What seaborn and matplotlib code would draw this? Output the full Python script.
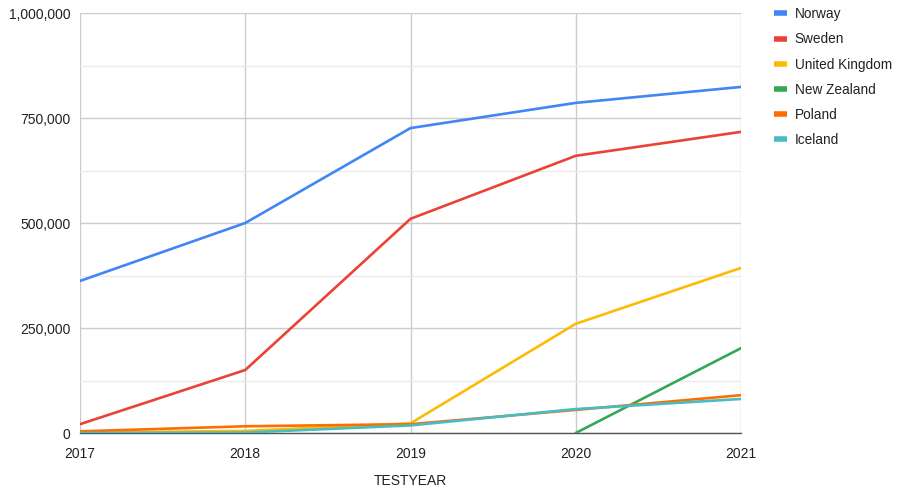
import matplotlib
matplotlib.use("Agg")
import matplotlib.pyplot as plt
import seaborn as sns
import pandas as pd
import numpy as np
from matplotlib.ticker import FuncFormatter, MultipleLocator
from matplotlib.lines import Line2D

years = [2017, 2018, 2019, 2020, 2021]
norway = [362000, 500000, 726000, 786000, 824000]
sweden = [21000, 150000, 510000, 660000, 717000]
uk = [1000, 5000, 23000, 260000, 393000]
new_zealand = [np.nan, np.nan, np.nan, 0, 202000]
poland = [4000, 16000, 21000, 55000, 90000]
iceland = [0, 1000, 18000, 57000, 81000]

series_names = ["Norway", "Sweden", "United Kingdom", "New Zealand", "Poland", "Iceland"]
series_vals = [norway, sweden, uk, new_zealand, poland, iceland]
colors = ["#4285F4", "#EA4335", "#FBBC04", "#34A853", "#FF6D01", "#46BDC6"]

rows = []
for name, vals in zip(series_names, series_vals):
    for y, v in zip(years, vals):
        if not np.isnan(v):
            rows.append({"TESTYEAR": y, "value": v, "country": name})
df = pd.DataFrame(rows)

sns.set_style("white")
plt.rcParams["font.family"] = ["Liberation Sans", "DejaVu Sans"]

fig = plt.figure(figsize=(8.97, 4.90), dpi=100)
ax = fig.add_axes([80/897, 1-433/490, (741-80)/897, (433-13)/490])

sns.lineplot(data=df, x="TESTYEAR", y="value", hue="country",
             hue_order=series_names, palette=colors, linewidth=1.9,
             ax=ax, legend=False, zorder=3)

ax.set_xlim(2017, 2021)
ax.set_ylim(0, 1000000)
ax.set_xticks(years)
ax.set_xticklabels([str(y) for y in years])
ax.yaxis.set_major_locator(MultipleLocator(250000))
ax.yaxis.set_minor_locator(MultipleLocator(125000))
ax.yaxis.set_major_formatter(FuncFormatter(lambda v, p: f"{int(v):,}"))

ax.grid(True, which="major", axis="both", color="#cccccc", linewidth=1, zorder=0)
ax.grid(True, which="minor", axis="y", color="#ebebeb", linewidth=1, zorder=0)
for s in ["top", "right", "left"]:
    ax.spines[s].set_visible(False)
ax.spines["bottom"].set_color("#555555")
ax.spines["bottom"].set_linewidth(1)
ax.tick_params(axis="both", which="both", length=0, labelsize=10, colors="#222222")
ax.tick_params(axis="x", pad=10)
ax.tick_params(axis="y", pad=7)
ax.set_ylabel("")
ax.set_xlabel("")
fig.text(410/897, 1-481/490, "TESTYEAR", fontsize=10, color="#222222",
         ha="center", va="center")

handles = [Line2D([0], [0], color=c, linewidth=4, solid_capstyle="butt") for c in colors]
fig.legend(handles, series_names, loc="upper left", bbox_to_anchor=(762/897, 1+5/490),
           frameon=False, fontsize=9.8, handlelength=0.9, handletextpad=0.6,
           labelspacing=0.82, labelcolor="#222222")

fig.savefig("out.png", dpi=100)
